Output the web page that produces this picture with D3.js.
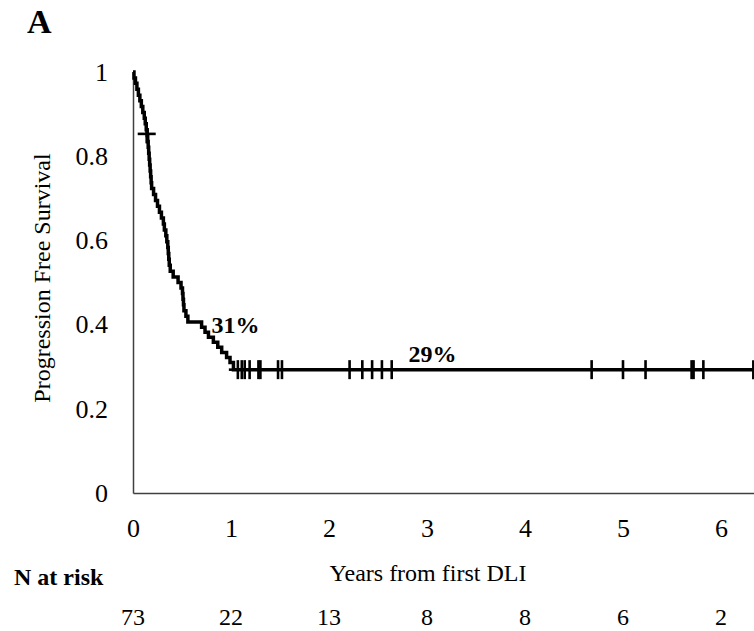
<!DOCTYPE html>
<html><head><meta charset="utf-8">
<script src="https://cdn.jsdelivr.net/npm/d3@7"></script>
<style>
body{margin:0;background:#fff;}
text{font-family:"Liberation Serif","Times New Roman",serif;fill:#000;}
</style></head>
<body>
<svg id="chart" width="754" height="631"></svg>
<script>
// Kaplan-Meier step points (years, survival after the step)
const stepTimes = [0,0.01,0.025,0.04,0.055,0.07,0.085,0.10,0.115,0.125,0.135,0.145,
  0.15,0.155,0.16,0.165,0.17,0.175,0.18,0.185,0.19,
  0.21,0.23,0.25,0.27,0.29,0.31,0.32,0.335,
  0.345,0.355,0.36,0.365,0.37,0.38,
  0.41,0.46,0.49,
  0.505,0.51,0.515,0.52,0.54,0.56,
  0.70,0.735,0.77,0.82,0.865,0.905,0.955,0.99,1.025];
const stepSurv = [1.0,0.986,0.973,0.959,0.945,0.932,0.918,0.904,0.890,0.877,0.863,0.849,
  0.835,0.821,0.807,0.793,0.779,0.765,0.751,0.737,0.723,
  0.709,0.695,0.681,0.667,0.653,0.639,0.625,0.611,
  0.597,0.583,0.569,0.555,0.541,0.527,
  0.513,0.500,0.487,
  0.474,0.460,0.447,0.433,0.420,0.406,
  0.394,0.382,0.370,0.358,0.346,0.334,0.322,0.310,0.293];
const curveEnd = 6.5;
// censored observations (years)
const censorTimes = [0.14,1.07,1.11,1.14,1.19,1.28,1.30,1.48,1.52,2.21,2.34,2.44,2.54,2.64,4.68,5.00,5.23,5.70,5.72,5.82,6.33];
const firstCensorSurv = 0.853;
// axis ticks
const xTicks = [0,1,2,3,4,5,6];
const yTicks = [0,0.2,0.4,0.6,0.8,1];
// number at risk
const riskTimes = [0,1,2,3,4,5,6];
const riskCounts = [73,22,13,8,8,6,2];
// annotations
const annoText = ["31%","29%"];
const annoTime = [0.8,2.81];
const annoSurv = [0.38,0.31];

const svg = d3.select("#chart");
const x = d3.scaleLinear().domain([0,6.5]).range([133,133+6.5*98]);
const y = d3.scaleLinear().domain([0,1]).range([493,72]);

// axes
const yAxis = svg.append("g").attr("transform","translate(133,0)")
  .call(d3.axisLeft(y).tickValues(yTicks).tickSize(0).tickPadding(25).tickFormat(d=>d===0?"0":d===1?"1":d3.format(".1f")(d)));
yAxis.select(".domain").attr("stroke","#404040").attr("stroke-width",1.5);
yAxis.selectAll("text").style("font-size","26px").attr("font-family",null);

const xAxis = svg.append("g").attr("transform","translate(0,493)")
  .call(d3.axisBottom(x).tickValues(xTicks).tickSize(0).tickFormat(d3.format("d")));
xAxis.select(".domain").attr("stroke","#404040").attr("stroke-width",1.5);
xAxis.selectAll("text").attr("y",44).attr("dy",0).style("font-size","26px").attr("font-family",null);

// KM curve
const pts = stepTimes.map((t,i)=>[t,stepSurv[i]]);
pts.push([curveEnd, stepSurv[stepSurv.length-1]]);
svg.append("path").datum(pts)
  .attr("fill","none").attr("stroke","#000").attr("stroke-width",3.5)
  .attr("d", d3.line().x(d=>x(d[0])).y(d=>y(d[1])).curve(d3.curveStepAfter));

// censor marks "+"
const survAt = t => { const i = d3.bisectRight(stepTimes,t)-1; return stepSurv[Math.max(0,i)]; };
const cg = svg.append("g").attr("stroke","#000").attr("stroke-width",2.6);
censorTimes.forEach((t,k)=>{
  const cx = x(t), cy = y(k===0?firstCensorSurv:survAt(t));
  cg.append("line").attr("x1",cx).attr("x2",cx).attr("y1",cy-9.5).attr("y2",cy+9.5);
  cg.append("line").attr("x1",cx-9).attr("x2",cx+9).attr("y1",cy).attr("y2",cy);
});

// annotations
annoText.forEach((s,i)=>{
  svg.append("text").attr("x",x(annoTime[i])).attr("y",y(annoSurv[i]))
    .style("font-size","24px").style("font-weight","bold").text(s);
});

// titles
svg.append("text").attr("transform","translate(50,278) rotate(-90)").attr("text-anchor","middle")
  .style("font-size","24px").text("Progression Free Survival");
svg.append("text").attr("x",428).attr("y",581).attr("text-anchor","middle")
  .style("font-size","24px").text("Years from first DLI");
svg.append("text").attr("x",27).attr("y",33).style("font-size","34px").style("font-weight","bold").text("A");
svg.append("text").attr("x",14).attr("y",585).style("font-size","24px").style("font-weight","bold").text("N at risk");

// number at risk row
svg.append("g").selectAll("text").data(riskTimes).join("text")
  .attr("x",d=>x(d)).attr("y",625).attr("text-anchor","middle")
  .style("font-size","24px").text((d,i)=>riskCounts[i]);
</script>
</body></html>
